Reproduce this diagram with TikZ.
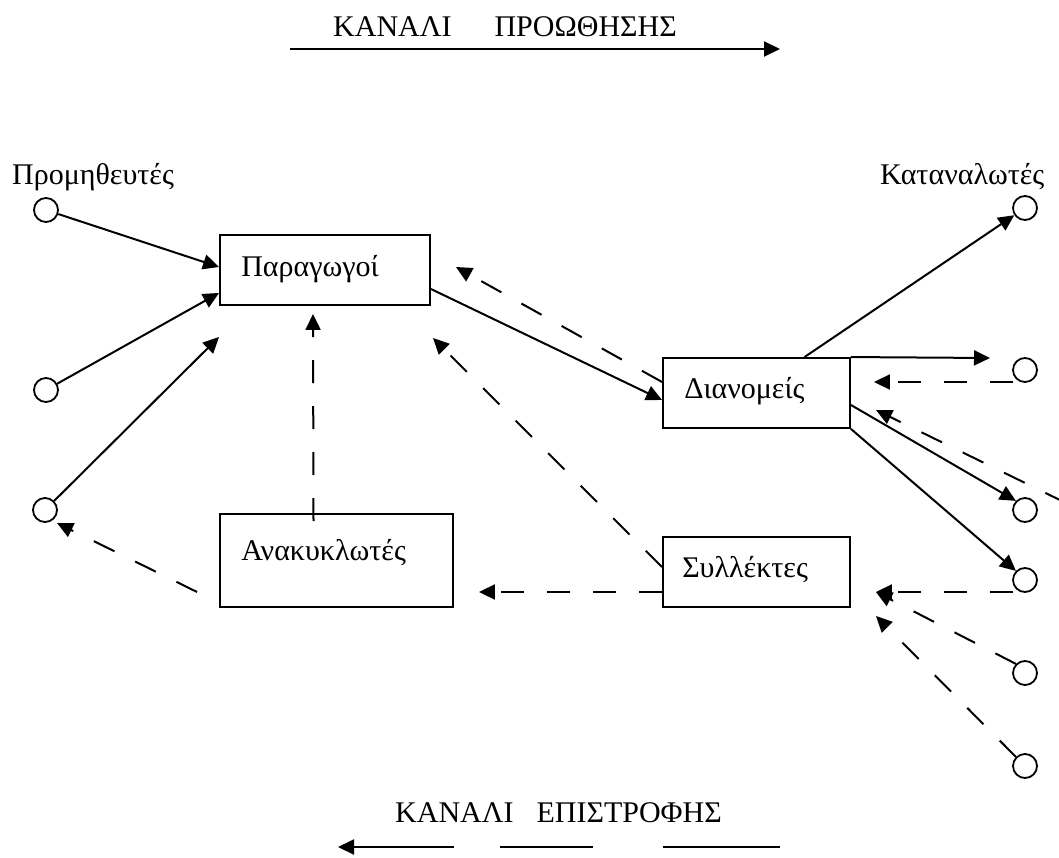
\documentclass[tikz,border=0pt]{standalone}
\usepackage{fontspec}
\setmainfont{Liberation Serif}
\usetikzlibrary{arrows.meta,calc}
\begin{document}
\begin{tikzpicture}[x=1pt,y=-1pt,
  every node/.style={font=\fontsize{30}{36}\selectfont},
  box/.style={draw, rectangle, line width=1.9pt, inner sep=0pt},
  site/.style={draw, circle, line width=1.8pt, minimum size=24pt, inner sep=0pt},
  lbl/.style={anchor=base west, inner sep=0pt},
  flow/.style={line width=2pt, -{Triangle[length=16pt,width=15pt]}},
  back/.style={flow, dash pattern=on 23pt off 23pt},
]
\useasboundingbox (0,0) rectangle (1059,858);

% channel titles
\node[lbl] (fwdT) at (333,37) {ΚΑΝΑΛΙ\hspace{43pt}ΠΡΟΩΘΗΣΗΣ};
\coordinate (fwdS) at (290,49);
\coordinate (fwdE) at (780,49);
\draw[flow] (fwdS) -- (fwdE);

\node[lbl] (retT) at (395,822) {ΚΑΝΑΛΙ\hspace{23pt}ΕΠΙΣΤΡΟΦΗΣ};
\coordinate (retS) at (780,847);
\coordinate (retE) at (338,847);
\draw[flow, dash pattern=on 117pt off 70pt on 93pt off 46pt on 300pt] (retS) -- (retE);

% group labels
\node[lbl] (supT) at (12,185) {Προμηθευτές};
\node[lbl] (conT) at (880,185) {Καταναλωτές};

% suppliers
\node[site] (L1) at (46,210) {};
\node[site] (L2) at (46,390) {};
\node[site] (L3) at (45,510) {};

% consumers
\node[site] (R1) at (1025,208) {};
\node[site] (R2) at (1025,370) {};
\node[site] (R3) at (1025,510) {};
\node[site] (R4) at (1025,580) {};
\node[site] (R5) at (1025,673) {};
\node[site] (R6) at (1025,766) {};

% actors
\node[box, minimum width=210pt, minimum height=70pt] (prod) at (325,270) {};
\node[box, minimum width=187pt, minimum height=70pt] (dist) at (756.5,393) {};
\node[box, minimum width=187pt, minimum height=70pt] (coll) at (756.5,572) {};
\node[box, minimum width=233pt, minimum height=93pt] (rec) at (336.5,560.5) {};

\node[lbl] (prodT) at ($(prod.west)+(22,7)$) {Παραγωγοί};
\node[lbl] (distT) at ($(dist.west)+(22,5)$) {Διανομείς};
\node[lbl] (collT) at ($(coll.west)+(20,5)$) {Συλλέκτες};
\node[lbl] (recT) at ($(rec.west)+(22,-0.5)$) {Ανακυκλωτές};

% forward flows
\draw[flow] (L1) -- ($(prod.west)+(0,-3)$);
\draw[flow] (L2) -- ($(prod.south west)+(0,-13)$);
\draw[flow] (L3) -- ($(prod.south west)+(0,31)$);
\draw[flow] ($(prod.east)+(0,19)$) -- ($(dist.west)+(0,7)$);
\draw[flow] ($(dist.north)+(48,0)$) -- (R1);
\draw[flow] (dist.north east) -- ($(R2)+(-35,-12)$);
\draw[flow] ($(dist.east)+(0,12)$) -- (R3.north west);
\draw[flow] (dist.south east) -- (R4.north west);

% return flows
\coordinate (offR) at (1066,503);
\draw[back] ($(R2)+(-12,12)$) -- ($(dist.east)+(23,-11)$);
\draw[back] (offR) -- ($(dist.east)+(25,17)$);
\draw[back] ($(dist.west)+(0,-11)$) -- ($(prod.east)+(25,-3)$);
\draw[back] ($(coll.west)+(0,-5)$) -- ($(prod.south east)+(2,32)$);
\draw[back] ($(rec.north)+(-23,8)$) -- ($(prod.south)+(-12,8)$);
\draw[back] ($(coll.west)+(0,20)$) -- ($(rec.east)+(25,31.5)$);
\draw[back] ($(rec.west)+(-22,31.5)$) -- ($(L3)+(12,13)$);
\draw[back] ($(R4)+(-12,12)$) -- ($(coll.east)+(25,20)$);
\draw[back] (R5.north west) -- ($(coll.east)+(25,20)$);
\draw[back] (R6.north west) -- ($(coll.south east)+(25,8)$);
\end{tikzpicture}
\end{document}
